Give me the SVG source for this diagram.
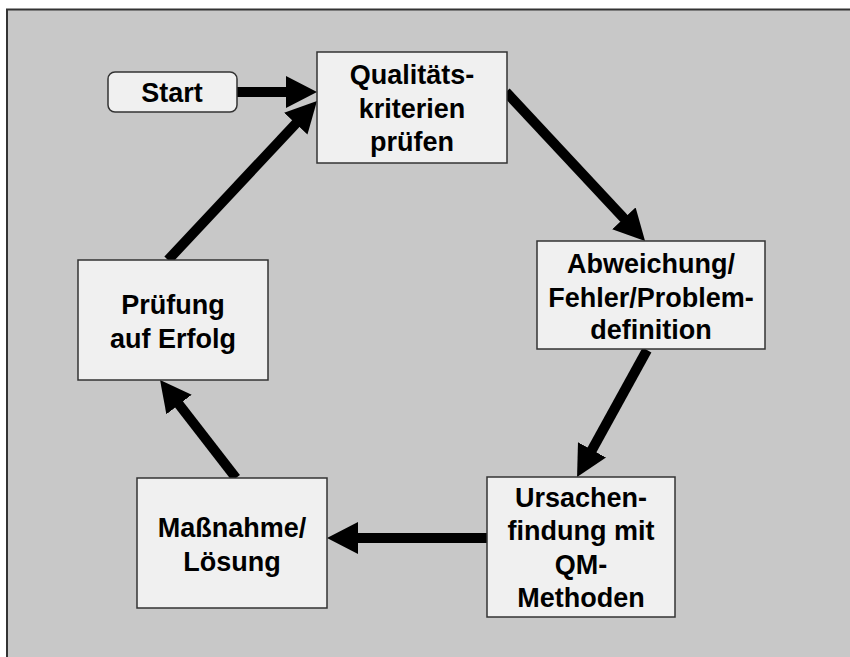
<svg xmlns="http://www.w3.org/2000/svg" width="850" height="657" viewBox="0 0 850 657">
<style>
.bg{fill:#c8c8c8;stroke:none}
.frame{stroke:#333;stroke-width:2;fill:none}
.box{fill:#f0f0f0;stroke:#333;stroke-width:1.5}
.t{font-family:"Liberation Sans",Arial,sans-serif;font-weight:bold;font-size:27px;fill:#000;text-anchor:middle}
.arr{stroke:#000;stroke-width:10;fill:none}
</style>
<defs>
<marker id="ah" markerUnits="userSpaceOnUse" markerWidth="32" markerHeight="32" refX="11" refY="16" orient="auto" viewBox="0 0 32 32">
<path d="M0,0 L31,16 L0,32 z" fill="#000"/>
</marker>
</defs>
<rect x="0" y="0" width="850" height="657" fill="#fff"/>
<rect class="bg" x="7" y="9" width="843" height="648"/>
<path class="frame" d="M7,657 V9.5 H850"/>
<g id="connectors">
<line class="arr" x1="237" y1="92" x2="297" y2="92" marker-end="url(#ah)"/>
<line class="arr" x1="168" y1="260" x2="303.3" y2="115.6" marker-end="url(#ah)"/>
<line class="arr" x1="506" y1="92" x2="631.4" y2="226.4" marker-end="url(#ah)"/>
<line class="arr" x1="647" y1="350" x2="586.7" y2="459.5" marker-end="url(#ah)"/>
<line class="arr" x1="487" y1="538" x2="347" y2="538" marker-end="url(#ah)"/>
<line class="arr" x1="236" y1="478" x2="172.3" y2="395.8" marker-end="url(#ah)"/>
</g>
<g id="start">
<rect class="box" x="108" y="72" width="129" height="40" rx="7"/>
<text class="t" x="172" y="102">Start</text>
</g>
<g id="qualitaet">
<rect class="box" x="317" y="52" width="190" height="111"/>
<text class="t" x="412" y="84">Qualitäts-</text>
<text class="t" x="412" y="118">kriterien</text>
<text class="t" x="412" y="151">prüfen</text>
</g>
<g id="abweichung">
<rect class="box" x="537" y="241" width="228" height="108"/>
<text class="t" x="651" y="273">Abweichung/</text>
<text class="t" x="651" y="307">Fehler/Problem-</text>
<text class="t" x="651" y="339">definition</text>
</g>
<g id="ursachen">
<rect class="box" x="487" y="477" width="188" height="140"/>
<text class="t" x="581" y="507">Ursachen-</text>
<text class="t" x="581" y="540">findung mit</text>
<text class="t" x="581" y="574">QM-</text>
<text class="t" x="581" y="607">Methoden</text>
</g>
<g id="massnahme">
<rect class="box" x="137" y="478" width="190" height="130"/>
<text class="t" x="232" y="537">Maßnahme/</text>
<text class="t" x="232" y="571">Lösung</text>
</g>
<g id="pruefung">
<rect class="box" x="78" y="260" width="190" height="120"/>
<text class="t" x="173" y="314">Prüfung</text>
<text class="t" x="173" y="348">auf Erfolg</text>
</g>
</svg>
